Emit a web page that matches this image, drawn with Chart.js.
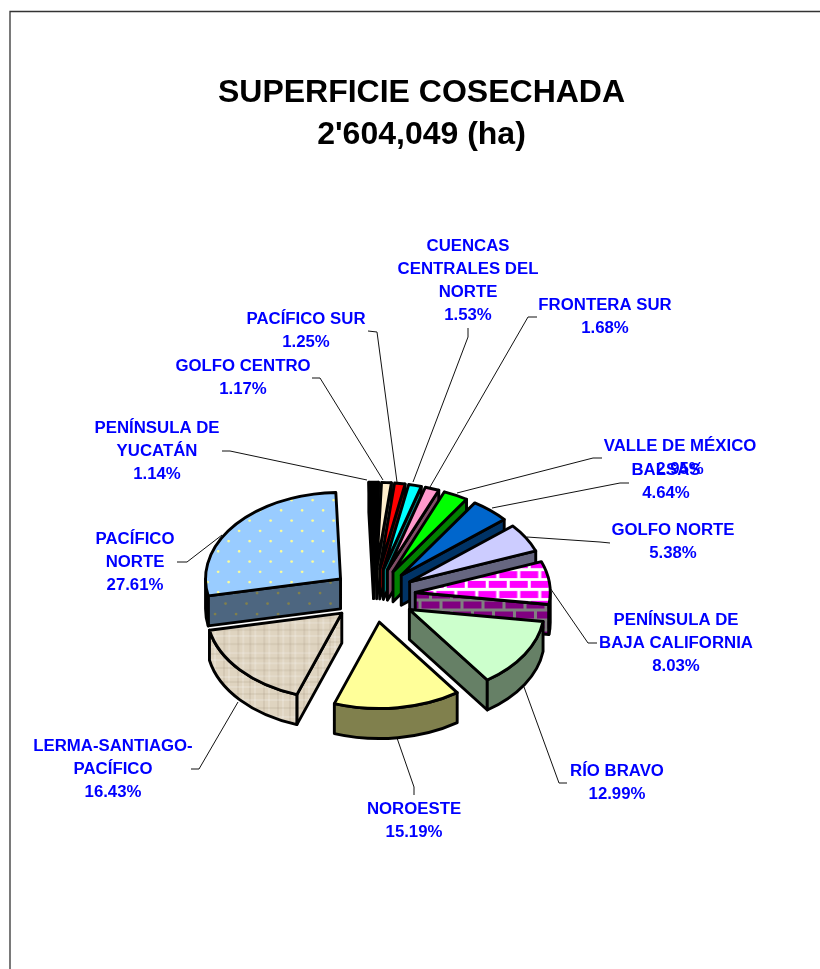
<!DOCTYPE html>
<html><head><meta charset="utf-8">
<style>html,body{margin:0;padding:0;background:#fff}canvas{display:block}</style>
<script src="https://cdn.jsdelivr.net/npm/chart.js@4/dist/chart.umd.js"></script>
</head><body>
<canvas id="c" width="820" height="969"></canvas>
<script>
const titleLines = ["SUPERFICIE COSECHADA", "2'604,049 (ha)"];
const categories = ["PENÍNSULA DE YUCATÁN","GOLFO CENTRO","PACÍFICO SUR","CUENCAS CENTRALES DEL NORTE","FRONTERA SUR","VALLE DE MÉXICO","BALSAS","GOLFO NORTE","PENÍNSULA DE BAJA CALIFORNIA","RÍO BRAVO","NOROESTE","LERMA-SANTIAGO-PACÍFICO","PACÍFICO NORTE"];
const values = [1.14,1.17,1.25,1.53,1.68,2.95,4.64,5.38,8.03,12.99,15.19,16.43,27.61];
const labelBreaks = [["PENÍNSULA DE","YUCATÁN"],["GOLFO CENTRO"],["PACÍFICO SUR"],["CUENCAS","CENTRALES DEL","NORTE"],["FRONTERA SUR"],["VALLE DE MÉXICO"],["BALSAS"],["GOLFO NORTE"],["PENÍNSULA DE","BAJA CALIFORNIA"],["RÍO BRAVO"],["NOROESTE"],["LERMA-SANTIAGO-","PACÍFICO"],["PACÍFICO","NORTE"]];

// layout of the outside labels: text centre, first line centre, leader polyline
const labelLayout = [
 {x:157,y:428,line:[[222,451],[230,451],[367,480]]},
 {x:243,y:366,line:[[312,378],[320,378],[383,480]]},
 {x:306,y:319,line:[[368,331],[377,332],[397,482]]},
 {x:468,y:246,line:[[468,328],[468,337],[413,482]]},
 {x:605,y:305,line:[[537,317],[528,317],[430,487]]},
 {x:680,y:446,line:[[602,458],[593,458],[457,493]]},
 {x:666,y:470,line:[[629,483],[620,483],[492,508]]},
 {x:673,y:530,line:[[610,543],[600,542],[527,537]]},
 {x:676,y:620,line:[[548,585],[588,643],[597,643]]},
 {x:617,y:771,line:[[524,687],[559,783],[567,783]]},
 {x:414,y:809,line:[[397,738],[414,787],[414,795]]},
 {x:113,y:746,line:[[238,702],[199,769],[191,769]]},
 {x:135,y:539,line:[[222,535],[187,562],[177,562]]}
];

const PIE = {cx:373.5, cy:595.5, r:135, squash:0.64, explode:42, depth:30};

function tile(w,h,sy,paint){
  const c=document.createElement('canvas');
  c.width=Math.round(w); c.height=Math.round(h/sy);
  const g=c.getContext('2d');
  g.scale(c.width/w,c.height/h);
  paint(g,w,h);
  return g.createPattern(c,'repeat');
}
function dots(bg,dot,sy){
  return tile(20.7,20.7,sy,(g,w,h)=>{
    g.fillStyle=bg;g.fillRect(0,0,w,h);g.fillStyle=dot;
    [[5,5],[15.35,15.35]].forEach(p=>{g.beginPath();g.arc(p[0],p[1],1.35,0,7);g.fill();});
  });
}
function bricks(bg,mortar,sy){
  return tile(20.7,20,sy,(g,w,h)=>{
    g.fillStyle=mortar;g.fillRect(0,0,w,h);g.fillStyle=bg;
    g.fillRect(1.5,1.5,w-3,7);g.fillRect(0,11.5,w/2-1.5,7);g.fillRect(w/2+1.5,11.5,w/2-1.5,7);
  });
}
const weaveV=[2,9,14,23,28,37], weaveH=[1,6,13,19,27,36];
function weave(sy){
  return tile(40,40,sy,(g,w,h)=>{
    g.fillStyle='#dfd4c0';g.fillRect(0,0,w,h);
    weaveV.forEach((x,i)=>{g.fillStyle=i%2==0?'rgba(255,255,255,.2)':'rgba(150,130,105,.14)';g.fillRect(x,0,2,h);});
    weaveH.forEach((y,i)=>{g.fillStyle=i%2==1?'rgba(255,255,255,.18)':'rgba(150,130,105,.12)';g.fillRect(0,y,w,2);});
  });
}
const k=PIE.squash;
const topFills=['#000000','#ffeecc','#ff0000','#00ffff','#ff99cc','#00ff00','#0066cc','#ccccff',bricks('#ff00ff','#ffffff',k),'#ccffcc','#ffff99',weave(k),dots('#99ccff','#ffff99',k)];
const sideFills=['#000000','#807766','#800000','#008080','#804d66','#008000','#003366','#666680',bricks('#800080','#808080',1),'#668066','#80804d',weave(1),dots('#4d6680','#80804d',1)];

const pie3d={
 id:'pie3d',
 beforeDraw(chart){
  const c=chart.ctx;
  c.save();c.fillStyle='#fff';c.fillRect(0,0,chart.width,chart.height);
  c.strokeStyle='#333';c.lineWidth=1.3;c.beginPath();c.moveTo(10,969);c.lineTo(10,11.5);c.lineTo(820,11.5);c.stroke();c.restore();
 },
 beforeDatasetDraw(chart,args){
  const c=chart.ctx, arcs=args.meta.data;
  const R=PIE.r, d=PIE.depth;
  // leader lines
  c.save();c.strokeStyle='#111';c.lineWidth=1;
  labelLayout.forEach(l=>{c.beginPath();l.line.forEach((p,i)=>i?c.lineTo(p[0],p[1]):c.moveTo(p[0],p[1]));c.stroke();});
  c.restore();
  const items=arcs.map((a,i)=>{
    const mid=(a.startAngle+a.endAngle)/2;
    return {a,i,sx:PIE.cx+Math.cos(mid)*PIE.explode,sy:PIE.cy+Math.sin(mid)*PIE.explode*k};
  }).sort((p,q)=>p.sy-q.sy);
  c.save();
  c.lineJoin='round';c.lineWidth=2.9;c.strokeStyle='#000';
  items.forEach(({a,i,sx,sy})=>{
    const a1=a.startAngle,a2=a.endAngle;
    const pt=t=>[sx+R*Math.cos(t),sy+R*k*Math.sin(t)];
    const face=t=>{const p=pt(t);c.beginPath();c.moveTo(sx,sy);c.lineTo(p[0],p[1]);c.lineTo(p[0],p[1]+d);c.lineTo(sx,sy+d);c.closePath();c.fillStyle=sideFills[i];c.fill();c.stroke();};
    if(Math.cos(a2)>0)face(a2);
    if(Math.cos(a1)<0)face(a1);
    const s=Math.max(a1,0),e=Math.min(a2,Math.PI);
    if(e>s){
      c.beginPath();c.ellipse(sx,sy,R,R*k,0,s,e);c.ellipse(sx,sy+d,R,R*k,0,e,s,true);c.closePath();
      c.fillStyle=sideFills[i];c.fill();c.stroke();
    }
    // top face: the library's own arc element, squashed into the ellipse
    c.save();
    c.translate(sx,sy);c.scale(1,k);c.translate(-a.x,-a.y);
    a.draw(c,chart.chartArea);
    c.restore();
    c.beginPath();c.moveTo(sx,sy);c.ellipse(sx,sy,R,R*k,0,a1,a2);c.closePath();c.stroke();
  });
  c.restore();
  // labels
  c.save();c.fillStyle='#0000ff';c.font='bold 16.8px "Liberation Sans", Arial, sans-serif';c.textAlign='center';c.textBaseline='middle';
  labelLayout.forEach((l,i)=>{
    const lines=labelBreaks[i].concat(values[i].toFixed(2)+'%');
    lines.forEach((t,j)=>c.fillText(t,l.x,l.y+0.5+j*22.8));
  });
  c.restore();
  return false;
 }
};

new Chart(document.getElementById('c'),{
 type:'pie',
 data:{labels:categories,datasets:[{data:values,backgroundColor:topFills,borderWidth:0}]},
 options:{
  responsive:false,animation:false,
  radius:PIE.r,rotation:-2,
  layout:{padding:{left:23}},
  plugins:{
   legend:{display:false},tooltip:{enabled:false},
   title:{display:true,text:titleLines,color:'#000',font:{family:'"Liberation Sans", Arial, sans-serif',size:32,weight:'bold',lineHeight:1.32},padding:{top:72,bottom:0}}
  }
 },
 plugins:[pie3d]
});
</script>
</body></html>
